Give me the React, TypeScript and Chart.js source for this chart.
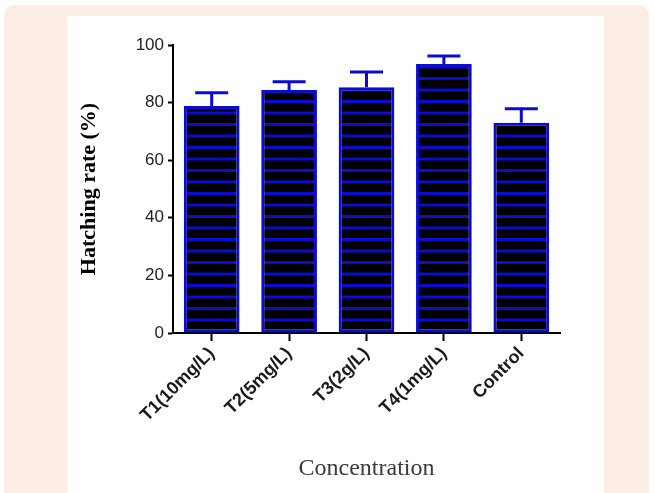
import React, { useEffect, useRef } from 'react';
import { Chart, registerables } from 'chart.js';

Chart.register(...registerables);

const categories = ['T1(10mg/L)', 'T2(5mg/L)', 'T3(2g/L)', 'T4(1mg/L)', 'Control'];
const hatchingRate = [78.8, 84.4, 85.3, 93.4, 73.0];
const errorSD = [4.6, 2.8, 5.3, 2.8, 4.9];
const yTicks = [0, 20, 40, 60, 80, 100];

const BLUE = '#0b0bd2';
const SANS = "'Liberation Sans', Arial, Helvetica, sans-serif";
const SERIF = "'Liberation Serif', 'Times New Roman', Times, serif";

function makePattern(): CanvasPattern | string {
  const c = document.createElement('canvas');
  c.width = 8;
  c.height = 23;
  const g = c.getContext('2d');
  if (!g) return '#000';
  g.fillStyle = '#000000';
  g.fillRect(0, 0, 8, 23);
  g.fillStyle = BLUE;
  g.fillRect(0, 0, 8, 3);
  g.fillRect(0, 11.5, 8, 3);
  const p = g.createPattern(c, 'repeat');
  return p || '#000';
}

export default function App() {
  const ref = useRef<HTMLCanvasElement>(null);

  useEffect(() => {
    if (!ref.current) return;
    const pattern = makePattern();

    const patternAlign = {
      id: 'patternAlign',
      beforeDatasetsDraw(chart: any) {
        if (typeof pattern !== 'string' && (pattern as any).setTransform) {
          const off = chart.chartArea.bottom - 3;
          (pattern as any).setTransform(new DOMMatrix([1, 0, 0, 1, 0, off]));
        }
      },
    };

    const errorBars = {
      id: 'errorBars',
      afterDatasetsDraw(chart: any) {
        const meta = chart.getDatasetMeta(0);
        const ys = chart.scales.y;
        const ctx = chart.ctx;
        ctx.save();
        ctx.strokeStyle = BLUE;
        ctx.lineWidth = 3;
        meta.data.forEach((bar: any, i: number) => {
          const top = ys.getPixelForValue(hatchingRate[i] + errorSD[i]);
          ctx.beginPath();
          ctx.moveTo(bar.x, bar.y);
          ctx.lineTo(bar.x, top);
          ctx.moveTo(bar.x - 16.5, top);
          ctx.lineTo(bar.x + 16.5, top);
          ctx.stroke();
        });
        ctx.restore();
      },
    };

    const chart = new Chart(ref.current, {
      type: 'bar',
      data: {
        labels: categories,
        datasets: [
          {
            data: hatchingRate,
            backgroundColor: pattern as any,
            borderColor: BLUE,
            borderWidth: 3,
            borderSkipped: false,
            barPercentage: 0.72,
            categoryPercentage: 1,
          },
        ],
      },
      options: {
        animation: false,
        responsive: true,
        maintainAspectRatio: false,
        layout: { padding: { top: 29, right: 44, left: 0, bottom: 0 } },
        plugins: {
          legend: { display: false },
          tooltip: { enabled: false },
        },
        scales: {
          x: {
            offset: true,
            grid: {
              offset: false,
              drawOnChartArea: false,
              drawTicks: true,
              tickLength: 8,
              tickWidth: 2,
              tickColor: '#000',
            },
            border: { display: true, color: '#000', width: 2 },
            ticks: {
              minRotation: 45,
              maxRotation: 45,
              color: '#1a1a1a',
              padding: 2,
              font: { family: SANS, size: 18, weight: 'bold' },
            },
            title: {
              display: true,
              text: 'Concentration',
              color: '#3a3a3a',
              padding: { top: 0, bottom: 10 },
              font: { family: SERIF, size: 24 },
            },
            afterFit(scale: any) {
              scale.height = 160;
            },
          },
          y: {
            min: yTicks[0],
            max: yTicks[yTicks.length - 1],
            grid: {
              drawOnChartArea: false,
              drawTicks: true,
              tickLength: 5,
              tickWidth: 2,
              tickColor: '#000',
            },
            border: { display: true, color: '#000', width: 2 },
            ticks: {
              stepSize: yTicks[1] - yTicks[0],
              color: '#222',
              padding: 4,
              font: { family: SANS, size: 17 },
            },
            title: {
              display: true,
              text: 'Hatching rate (%)',
              color: '#000',
              padding: { top: 9, bottom: 0 },
              font: { family: SERIF, size: 22, weight: 'bold' },
            },
            afterFit(scale: any) {
              scale.width = 106;
            },
          },
        },
      },
      plugins: [patternAlign, errorBars],
    });

    return () => chart.destroy();
  }, []);

  return (
    <div
      style={{
        position: 'fixed',
        left: 0,
        top: 0,
        width: 654,
        height: 493,
        background: '#ffffff',
        overflow: 'hidden',
      }}
    >
      <div
        style={{
          position: 'absolute',
          left: 4,
          top: 5,
          width: 645,
          height: 500,
          borderRadius: 10,
          background: '#fbede3',
        }}
      />
      <div
        style={{
          position: 'absolute',
          left: 67,
          top: 16,
          width: 537,
          height: 477,
          background: '#ffffff',
        }}
      >
        <canvas ref={ref} />
      </div>
    </div>
  );
}
